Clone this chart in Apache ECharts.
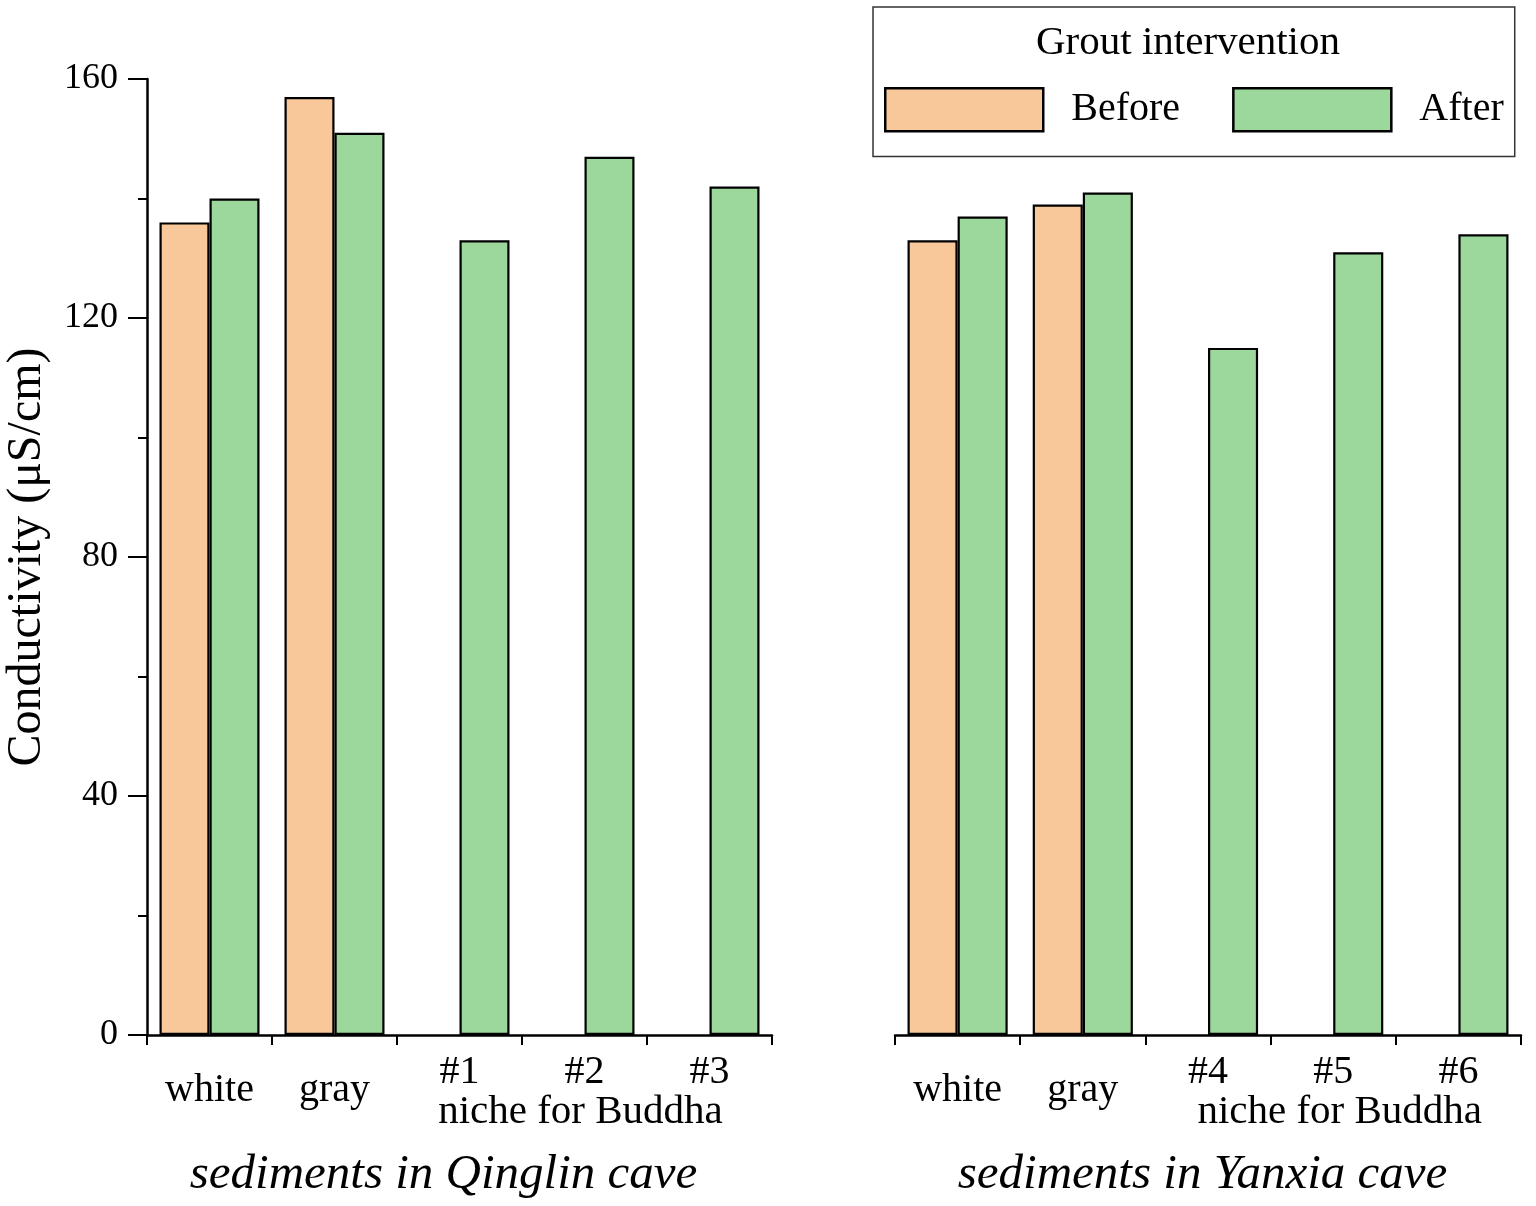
<!DOCTYPE html>
<html>
<head>
<meta charset="utf-8">
<script src="https://cdn.jsdelivr.net/npm/echarts@6/dist/echarts.min.js"></script>
<style>
html,body{margin:0;padding:0;background:#fff;}
#chart{width:1536px;height:1206px;}
</style>
</head>
<body>
<div id="chart"></div>
<script>
// ---- data ----
const categoriesQinglin = ['white', 'gray', '#1', '#2', '#3'];
const categoriesYanxia = ['white', 'gray', '#4', '#5', '#6'];
const groupLabel = 'niche for Buddha';
const groupCenterIndex = 3;
const sampleCategories = ['white', 'gray'];
const beforeQinglin = [136, 157, null, null, null];
const afterQinglin = [140, 151, 133, 147, 142];
const beforeYanxia = [133, 139, null, null, null];
const afterYanxia = [137, 141, 115, 131, 134];
const seriesNames = ['Before', 'After'];
const legendTitle = 'Grout intervention';
const yAxisTitle = 'Conductivity (\u03bcS/cm)';
const xTitleQinglin = 'sediments in Qinglin cave';
const xTitleYanxia = 'sediments in Yanxia cave';
const yMin = 0, yMax = 160, yInterval = 40;

// ---- style ----
const FONT = '"Liberation Serif", "Times New Roman", serif';
const colBefore = '#F9C89A';
const colAfter = '#9CD89C';

function catFormatter(value, index) {
  if (sampleCategories.indexOf(value) >= 0) return '{mid|' + value + '}';
  if (index === groupCenterIndex) return value + '\n{grp|' + groupLabel + '}';
  return value;
}

function xAxisCfg(gridIndex, data, name, namePad, grpPad) {
  return {
    type: 'category', gridIndex: gridIndex, data: data,
    axisLine: {lineStyle: {color: '#000', width: 2.5}},
    axisTick: {show: true, length: 10, lineStyle: {color: '#000', width: 2}},
    axisLabel: {
      color: '#000', fontFamily: FONT, fontSize: 40, lineHeight: 40, margin: 17,
      interval: 0, formatter: catFormatter,
      rich: {
        mid: {fontFamily: FONT, fontSize: 40, lineHeight: 76, color: '#000'},
        grp: {fontFamily: FONT, fontSize: 41, lineHeight: 40, color: '#000', padding: grpPad}
      }
    },
    name: name, nameLocation: 'middle', nameGap: 116,
    nameTextStyle: {color: '#000', fontFamily: FONT, fontSize: 49, fontStyle: 'italic', lineHeight: 49, padding: namePad}
  };
}

function yAxisCfg(gridIndex, show) {
  return {
    type: 'value', gridIndex: gridIndex, min: yMin, max: yMax, interval: yInterval,
    show: show,
    splitLine: {show: false},
    axisLine: {show: true, lineStyle: {color: '#000', width: 2.5}},
    axisTick: {show: true, length: 19, lineStyle: {color: '#000', width: 2}},
    minorTick: {show: true, splitNumber: 2, length: 9, lineStyle: {color: '#000', width: 2}},
    axisLabel: {color: '#000', fontFamily: FONT, fontSize: 36, margin: 29},
    name: show ? yAxisTitle : '', nameLocation: 'middle', nameGap: 96, nameRotate: 90,
    nameTextStyle: {color: '#000', fontFamily: FONT, fontSize: 48}
  };
}

function barSeries(name, xi, data, color) {
  return {
    type: 'bar', name: name, xAxisIndex: xi, yAxisIndex: xi, data: data,
    barGap: '0%', barCategoryGap: '20%',
    itemStyle: {color: color, borderColor: '#000', borderWidth: 2.2},
    emphasis: {disabled: true}
  };
}

const chart = echarts.init(document.getElementById('chart'), null, {renderer: 'canvas'});
chart.setOption({
  animation: false,
  backgroundColor: '#fff',
  title: {
    text: legendTitle, left: 1188, top: 23, textAlign: 'center', padding: 0,
    textStyle: {color: '#000', fontFamily: FONT, fontSize: 41, fontWeight: 'normal'}
  },
  legend: {
    data: seriesNames, left: 873, top: 7,
    padding: [80, 11, 24, 11], itemGap: 52,
    itemWidth: 158, itemHeight: 43, icon: 'rect',
    borderColor: '#333', borderWidth: 1.5,
    itemStyle: {borderColor: '#000', borderWidth: 2.5},
    textStyle: {color: '#000', fontFamily: FONT, fontSize: 40, padding: [4, 0, 0, 23]}
  },
  grid: [
    {left: 147, top: 79, width: 625, height: 956},
    {left: 895, top: 79, width: 626, height: 956}
  ],
  xAxis: [
    xAxisCfg(0, categoriesQinglin, xTitleQinglin, [0, 32, 0, 0], [0, 8, 0, 0]),
    xAxisCfg(1, categoriesYanxia, xTitleYanxia, [0, 11, 0, 0], [0, 0, 0, 13])
  ],
  yAxis: [yAxisCfg(0, true), yAxisCfg(1, false)],
  series: [
    barSeries(seriesNames[0], 0, beforeQinglin, colBefore),
    barSeries(seriesNames[1], 0, afterQinglin, colAfter),
    barSeries(seriesNames[0], 1, beforeYanxia, colBefore),
    barSeries(seriesNames[1], 1, afterYanxia, colAfter)
  ]
});
</script>
</body>
</html>
